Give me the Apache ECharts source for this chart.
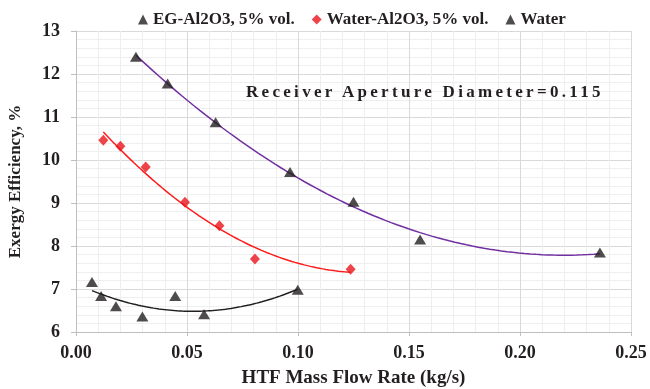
<!DOCTYPE html>
<html>
<head>
<meta charset="utf-8">
<script src="https://cdn.jsdelivr.net/npm/echarts@6/dist/echarts.min.js"></script>
<style>
  html, body { margin: 0; padding: 0; background: #fff; }
  #wrap { position: relative; width: 650px; height: 389px; }
  #chart { width: 650px; height: 389px; }
  #note {
    position: absolute; left: 246px; top: 83px;
    font: bold 17px "Liberation Serif", "Times New Roman", serif;
    line-height: 17px; letter-spacing: 3.3px; color: #231f20; white-space: nowrap;
  }
</style>
</head>
<body>
<div id="wrap">
  <div id="chart"></div>
  <div id="note">Receiver Aperture Diameter=0.115</div>
</div>
<script>
// Mass flow rate (kg/s) and exergy efficiency (%) for each working fluid
const egFlow    = [0.027, 0.0413, 0.0629, 0.0964, 0.125, 0.155, 0.236];
const egEff     = [12.40, 11.78, 10.88, 9.72, 9.03, 8.15, 7.85];
const nfFlow    = [0.0123, 0.020, 0.0314, 0.0491, 0.0646, 0.0806, 0.1237];
const nfEff     = [10.46, 10.32, 9.84, 9.02, 8.47, 7.70, 7.46];
const waterFlow = [0.0072, 0.0113, 0.018, 0.0299, 0.0447, 0.0577, 0.0999];
const waterEff  = [7.16, 6.84, 6.60, 6.36, 6.84, 6.41, 6.98];

const seriesNames = ['EG-Al2O3, 5% vol.', 'Water-Al2O3, 5% vol.', 'Water'];

const FONT = '"Liberation Serif", "Times New Roman", serif';
const INK = '#231f20';

function pairs(xs, ys) { return xs.map((x, i) => [x, ys[i]]); }

// Second-order least-squares trendline over the range of the measured points
function quadTrend(xs, ys, steps) {
  let S = [0, 0, 0, 0, 0], T = [0, 0, 0];
  xs.forEach((x, i) => {
    let p = 1;
    for (let k = 0; k < 5; k++) { S[k] += p; if (k < 3) T[k] += p * ys[i]; p *= x; }
  });
  const A = [[S[0], S[1], S[2], T[0]], [S[1], S[2], S[3], T[1]], [S[2], S[3], S[4], T[2]]];
  for (let c = 0; c < 3; c++) {
    for (let r = c + 1; r < 3; r++) {
      const f = A[r][c] / A[c][c];
      for (let k = c; k < 4; k++) A[r][k] -= f * A[c][k];
    }
  }
  const b = [0, 0, 0];
  for (let r = 2; r >= 0; r--) {
    let s = A[r][3];
    for (let k = r + 1; k < 3; k++) s -= A[r][k] * b[k];
    b[r] = s / A[r][r];
  }
  const lo = Math.min(...xs), hi = Math.max(...xs), out = [];
  for (let i = 0; i <= steps; i++) {
    const x = lo + (hi - lo) * i / steps;
    out.push([x, b[0] + b[1] * x + b[2] * x * x]);
  }
  return out;
}

const chart = echarts.init(document.getElementById('chart'));

const trendLine = (data, color) => ({
  type: 'line', data, showSymbol: false, silent: true, smooth: false,
  lineStyle: { color, width: 1.5 }, z: 2
});

chart.setOption({
  animation: false,
  backgroundColor: '#fff',
  legend: {
    data: seriesNames,
    left: 133, top: 6,
    itemWidth: 10, itemHeight: 10, itemGap: 17,
    textStyle: { fontFamily: FONT, fontWeight: 'bold', fontSize: 17, color: INK }
  },
  grid: { left: 76, right: 19, top: 31, bottom: 57, containLabel: false, outerBoundsMode: 'none' },
  xAxis: {
    type: 'value', min: 0, max: 0.25, interval: 0.05,
    name: 'HTF Mass Flow Rate (kg/s)', nameLocation: 'middle', nameGap: 37,
    nameTextStyle: { fontFamily: FONT, fontWeight: 'bold', fontSize: 19, color: INK },
    axisLine: { show: true, onZero: false, lineStyle: { color: '#bfbfbf' } },
    axisTick: { show: true, length: 4, lineStyle: { color: '#bfbfbf' } },
    axisLabel: { margin: 12, formatter: v => v.toFixed(2),
      fontFamily: FONT, fontWeight: 'bold', fontSize: 18, color: INK },
    splitLine: { show: true, lineStyle: { color: '#d9d9d9' } },
    minorTick: { show: false, splitNumber: 5 },
    minorSplitLine: { show: true, lineStyle: { color: '#efefef' } }
  },
  yAxis: {
    type: 'value', min: 6, max: 13, interval: 1,
    name: 'Exergy Efficiency, %', nameLocation: 'middle', nameGap: 52,
    nameTextStyle: { fontFamily: FONT, fontWeight: 'bold', fontSize: 17, color: INK },
    axisLine: { show: true, lineStyle: { color: '#bfbfbf' } },
    axisTick: { show: true, length: 5, lineStyle: { color: '#bfbfbf' } },
    axisLabel: { margin: 16, fontFamily: FONT, fontWeight: 'bold', fontSize: 18, color: INK },
    splitLine: { show: true, lineStyle: { color: '#d9d9d9' } },
    minorTick: { show: false, splitNumber: 5 },
    minorSplitLine: { show: true, lineStyle: { color: '#efefef' } }
  },
  series: [
    trendLine(quadTrend(egFlow, egEff, 80), '#7030a0'),
    trendLine(quadTrend(nfFlow, nfEff, 80), '#ff1a1a'),
    trendLine(quadTrend(waterFlow, waterEff, 80), INK),
    {
      name: seriesNames[0], type: 'scatter', data: pairs(egFlow, egEff),
      symbol: 'triangle', symbolSize: [12, 10], itemStyle: { color: INK }, z: 3
    },
    {
      name: seriesNames[1], type: 'scatter', data: pairs(nfFlow, nfEff),
      symbol: 'diamond', symbolSize: [10, 11], itemStyle: { color: '#e8141c' }, z: 3
    },
    {
      name: seriesNames[2], type: 'scatter', data: pairs(waterFlow, waterEff),
      symbol: 'triangle', symbolSize: [12, 10], itemStyle: { color: INK }, z: 3
    }
  ]
});
</script>
</body>
</html>
